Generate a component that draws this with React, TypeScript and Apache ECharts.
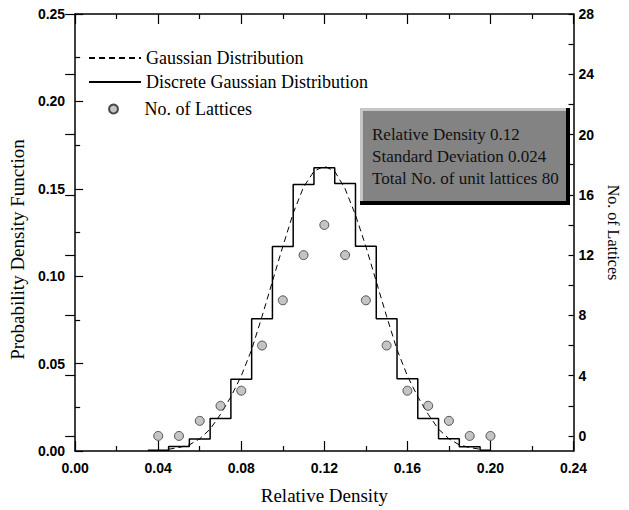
import React, { useEffect, useRef } from "react";
import * as echarts from "echarts";

// Relative density bins (x) used by the discrete distribution and lattice counts
const densities = [0.04, 0.05, 0.06, 0.07, 0.08, 0.09, 0.1, 0.11, 0.12, 0.13, 0.14, 0.15, 0.16, 0.17, 0.18, 0.19, 0.2];
// Discrete Gaussian distribution (left axis)
const discretePdf = [0.0005, 0.0026, 0.0068, 0.0186, 0.0411, 0.0757, 0.117, 0.1525, 0.162, 0.153, 0.1172, 0.0757, 0.0413, 0.0186, 0.007, 0.0024, 0.0005];
// No. of lattices (right axis)
const latticeCounts = [0, 0, 1, 2, 3, 6, 9, 12, 14, 12, 9, 6, 3, 2, 1, 0, 0];
// Gaussian distribution curve (left axis)
const gaussX = [0.045, 0.05, 0.055, 0.06, 0.065, 0.07, 0.075, 0.08, 0.085, 0.09, 0.095, 0.1, 0.105, 0.11, 0.115, 0.12, 0.125, 0.13, 0.135, 0.14, 0.145, 0.15, 0.155, 0.16, 0.165, 0.17, 0.175, 0.18, 0.185, 0.19, 0.195];
const gaussPdf = [0.001, 0.002, 0.0035, 0.007, 0.0125, 0.021, 0.031, 0.043, 0.058, 0.077, 0.097, 0.117, 0.136, 0.151, 0.16, 0.163, 0.16, 0.15, 0.135, 0.117, 0.097, 0.077, 0.058, 0.043, 0.031, 0.021, 0.0125, 0.007, 0.0035, 0.002, 0.001];
// Tick values
const rightMajorTicks = [0, 4, 8, 12, 16, 20, 24, 28];
const rightAllTicks = [0, 2, 4, 6, 8, 10, 12, 14, 16, 18, 20, 22, 24, 26, 28];
const infoLines = ["Relative Density 0.12", "Standard Deviation 0.024", "Total No. of unit lattices 80"];

const SERIF = "'Liberation Serif', 'Times New Roman', serif";
const SANS = "'Liberation Sans', Arial, sans-serif";

export default function App() {
  const ref = useRef<HTMLDivElement>(null);
  useEffect(() => {
    if (!ref.current) return;
    const chart = echarts.init(ref.current, null, { renderer: "svg" });
    const axisLine = { show: true, onZero: false, lineStyle: { color: "#000", width: 1.5 } };
    const tickStyle = { color: "#000", width: 1.2 };
    const labelStyle = { color: "#000", fontFamily: SANS, fontWeight: "bold" as const, fontSize: 14 };
    const nameStyle = { color: "#000", fontFamily: SERIF, fontSize: 19 };

    const xCommon = {
      type: "value" as const,
      min: 0,
      max: 0.24,
      interval: 0.04,
      axisLine,
      axisTick: { show: true, inside: true, length: 10, lineStyle: tickStyle },
      minorTick: { show: true, splitNumber: 2, length: 5, lineStyle: tickStyle },
      splitLine: { show: false },
      minorSplitLine: { show: false },
    };

    const legendBase = {
      left: 88,
      orient: "vertical" as const,
      padding: 0,
      itemWidth: 52,
      textStyle: { color: "#000", fontFamily: SERIF, fontSize: 18, lineHeight: 18 },
    };

    chart.setOption({
      animation: false,
      backgroundColor: "#fff",
      grid: { left: 73, right: 50, top: 14, bottom: 58, containLabel: false },
      legend: [
        { ...legendBase, top: 49, itemHeight: 14, itemStyle: { opacity: 0 }, data: ["Gaussian Distribution"] },
        { ...legendBase, top: 73, itemHeight: 14, itemStyle: { opacity: 0 }, data: ["Discrete Gaussian Distribution"] },
        { ...legendBase, left: 108, top: 100, itemHeight: 9, data: [{ name: "No. of Lattices", icon: "circle" }] },
      ],
      xAxis: [
        {
          ...xCommon,
          position: "bottom",
          axisLabel: { ...labelStyle, margin: 10, formatter: (v: number) => v.toFixed(2) },
          name: "Relative Density",
          nameLocation: "middle",
          nameGap: 35,
          nameTextStyle: nameStyle,
        },
        {
          ...xCommon,
          position: "top",
          axisLabel: { show: false },
        },
      ],
      yAxis: [
        {
          type: "value",
          position: "left",
          min: 0,
          max: 0.25,
          interval: 0.05,
          axisLine,
          axisTick: { show: true, inside: true, length: 8, lineStyle: tickStyle },
          minorTick: { show: true, splitNumber: 2, length: 5, lineStyle: tickStyle },
          splitLine: { show: false },
          axisLabel: { ...labelStyle, margin: 10, formatter: (v: number) => v.toFixed(2) },
          name: "Probability Density Function",
          nameLocation: "middle",
          nameRotate: 90,
          nameGap: 43,
          nameTextStyle: { ...nameStyle, padding: [0, 34, 0, 0] },
        },
        {
          type: "value",
          position: "right",
          min: -1,
          max: 28,
          axisLine,
          axisTick: { show: true, inside: true, length: 5, customValues: rightAllTicks, lineStyle: tickStyle },
          splitLine: { show: false },
          axisLabel: { show: false },
        },
        {
          type: "value",
          position: "right",
          min: -1,
          max: 28,
          axisLine: { show: false },
          axisTick: { show: true, inside: true, length: 10, customValues: rightMajorTicks, lineStyle: tickStyle },
          splitLine: { show: false },
          axisLabel: { ...labelStyle, margin: 5, customValues: rightMajorTicks },
          name: "No. of Lattices",
          nameLocation: "middle",
          nameRotate: -90,
          nameGap: 27,
          nameTextStyle: { ...nameStyle, fontSize: 16 },
        },
      ],
      series: [
        {
          name: "Gaussian Distribution",
          type: "line",
          xAxisIndex: 0,
          yAxisIndex: 0,
          symbol: "none",
          data: gaussX.map((x, i) => [x, gaussPdf[i]]),
          lineStyle: { color: "#000", width: 1, type: [6, 4] },
          itemStyle: { color: "#000" },
          z: 3,
        },
        {
          name: "Discrete Gaussian Distribution",
          type: "line",
          xAxisIndex: 0,
          yAxisIndex: 0,
          step: "middle",
          symbol: "none",
          data: [[densities[0] - 0.005, discretePdf[0]], ...densities.map((x, i) => [x, discretePdf[i]])],
          lineStyle: { color: "#000", width: 1.5 },
          itemStyle: { color: "#000" },
          z: 2,
        },
        {
          name: "No. of Lattices",
          type: "scatter",
          xAxisIndex: 0,
          yAxisIndex: 2,
          symbol: "circle",
          symbolSize: 9,
          data: densities.map((x, i) => [x, latticeCounts[i]]),
          itemStyle: { color: "#b5b5b5", borderColor: "#222", borderWidth: 0.9 },
          z: 4,
        },
      ],
      graphic: [
        { type: "rect", z: 10, shape: { x: 360, y: 108, width: 207, height: 95 }, style: { fill: "#838383" } },
        { type: "rect", z: 11, shape: { x: 360, y: 108, width: 207, height: 3 }, style: { fill: "#c6c6c6" } },
        { type: "rect", z: 11, shape: { x: 360, y: 108, width: 3, height: 95 }, style: { fill: "#c6c6c6" } },
        { type: "rect", z: 12, shape: { x: 566, y: 108, width: 4, height: 97 }, style: { fill: "#000" } },
        { type: "rect", z: 12, shape: { x: 360, y: 201, width: 210, height: 4 }, style: { fill: "#000" } },
        ...infoLines.map((t, i) => ({
          type: "text",
          z: 13,
          x: 372,
          y: 134 + i * 22,
          style: { text: t, fill: "#111", fontFamily: SERIF, fontSize: 17, textVerticalAlign: "middle", verticalAlign: "middle" },
        })),
      ],
    });
    return () => chart.dispose();
  }, []);
  return (
    <div
      ref={ref}
      style={{ position: "fixed", left: 0, top: 0, width: 629, height: 510, background: "#fff" }}
    />
  );
}
